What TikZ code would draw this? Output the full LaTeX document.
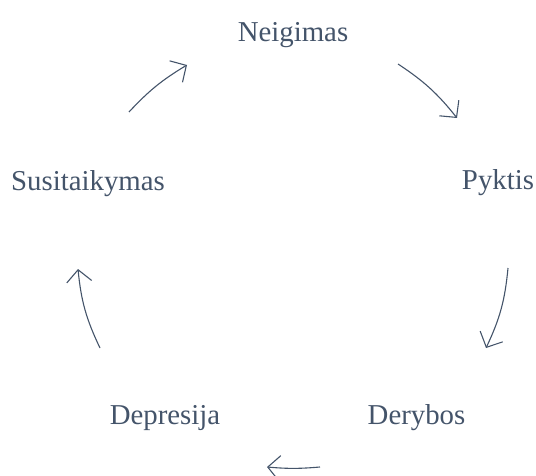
\documentclass[tikz,border=0pt]{standalone}
\usepackage{fontspec}
\setmainfont{Liberation Serif}
\usetikzlibrary{arrows.meta}
\definecolor{ink}{HTML}{44546A}
\begin{document}
\begin{tikzpicture}[x=1pt,y=1pt,
  lbl/.style={text=ink,font=\fontsize{28.8}{34}\selectfont,anchor=base,inner sep=0pt},
  arr/.style={draw=ink,line width=1.1pt,-{Straight Barb[length=12pt,width=25pt,line width=1.1pt]}}]
\useasboundingbox (0,0) rectangle (536,475);
\node[lbl] (neg) at (293,433) {Neigimas};
\node[lbl] (pyk) at (498,285) {Pyktis};
\node[lbl] (der) at (416.5,51) {Derybos};
\node[lbl] (dep) at (165,51) {Depresija};
\node[lbl] (sus) at (88,284) {Susitaikymas};
\coordinate (a1) at (129,363); \coordinate (b1) at (187,410);
\coordinate (a2) at (398,411); \coordinate (b2) at (457,357);
\coordinate (a3) at (508,207); \coordinate (b3) at (486,127);
\coordinate (a4) at (320,8);   \coordinate (b4) at (267,8);
\coordinate (a5) at (100,127); \coordinate (b5) at (78,206);
\draw[arr] (a1) to[bend left=8] (b1);
\draw[arr] (a2) to[bend left=9] (b2);
\draw[arr] (a3) to[bend left=10] (b3);
\draw[arr] (a4) to[bend left=5] (b4);
\draw[arr] (a5) to[bend left=10] (b5);
\end{tikzpicture}
\end{document}
